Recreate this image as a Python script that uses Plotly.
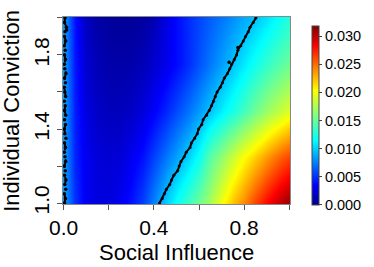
import plotly.graph_objects as go

# grid of the heatmap
x_vals = [0.00, 0.05, 0.10, 0.15, 0.20, 0.25, 0.30, 0.35, 0.40, 0.45, 0.50,
          0.55, 0.60, 0.65, 0.70, 0.75, 0.80, 0.85, 0.90, 0.95, 1.00]
y_vals = [1.00, 1.25, 1.50, 1.75, 2.00]

row_100 = [0.0085, 0.0050, 0.0030, 0.0025, 0.0025, 0.0030, 0.0040, 0.0055, 0.0076, 0.0097, 0.0118,
           0.0135, 0.0152, 0.0172, 0.0200, 0.0222, 0.0240, 0.0262, 0.0282, 0.0298, 0.0312]
row_125 = [0.0085, 0.0046, 0.0030, 0.0023, 0.0021, 0.0023, 0.0030, 0.0040, 0.0055, 0.0070, 0.0086,
           0.0100, 0.0118, 0.0145, 0.0165, 0.0185, 0.0203, 0.0218, 0.0235, 0.0250, 0.0262]
row_150 = [0.0085, 0.0044, 0.0025, 0.0017, 0.0014, 0.0014, 0.0017, 0.0024, 0.0034, 0.0045, 0.0058,
           0.0070, 0.0083, 0.0096, 0.0110, 0.0123, 0.0137, 0.0153, 0.0168, 0.0180, 0.0192]
row_175 = [0.0085, 0.0042, 0.0020, 0.0012, 0.0009, 0.0008, 0.0009, 0.0013, 0.0020, 0.0028, 0.0038,
           0.0048, 0.0060, 0.0072, 0.0085, 0.0096, 0.0108, 0.0120, 0.0132, 0.0142, 0.0152]
row_200 = [0.0085, 0.0040, 0.0015, 0.0007, 0.0004, 0.0003, 0.0003, 0.0005, 0.0012, 0.0025, 0.0038,
           0.0048, 0.0056, 0.0064, 0.0072, 0.0080, 0.0088, 0.0096, 0.0106, 0.0116, 0.0126]

# black threshold lines
diag_y = [1.000, 1.025, 1.050, 1.075, 1.100, 1.125, 1.150, 1.175, 1.200, 1.225, 1.250,
          1.275, 1.300, 1.325, 1.350, 1.375, 1.400, 1.425, 1.450, 1.475, 1.500,
          1.525, 1.550, 1.575, 1.600, 1.625, 1.650, 1.675, 1.700, 1.725, 1.750,
          1.775, 1.800, 1.825, 1.850, 1.875, 1.900, 1.925, 1.950, 1.975, 2.000]
diag_x = [0.425, 0.437, 0.446, 0.455, 0.470, 0.478, 0.488, 0.505, 0.512, 0.520, 0.534,
          0.543, 0.560, 0.566, 0.580, 0.592, 0.598, 0.612, 0.618, 0.633, 0.645,
          0.655, 0.664, 0.672, 0.680, 0.694, 0.704, 0.712, 0.726, 0.736, 0.744,
          0.756, 0.766, 0.772, 0.785, 0.796, 0.806, 0.818, 0.826, 0.840, 0.852]

left_y = [1.000, 1.025, 1.050, 1.075, 1.100, 1.125, 1.150, 1.175, 1.200, 1.225, 1.250,
          1.275, 1.300, 1.325, 1.350, 1.375, 1.400, 1.425, 1.450, 1.475, 1.500,
          1.525, 1.550, 1.575, 1.600, 1.625, 1.650, 1.675, 1.700, 1.725, 1.750,
          1.775, 1.800, 1.825, 1.850, 1.875, 1.900, 1.925, 1.950, 1.975, 2.000]
left_x = [0.004, 0.008, 0.003, 0.009, 0.005, 0.010, 0.004, 0.007, 0.003, 0.009, 0.006,
          0.003, 0.008, 0.004, 0.010, 0.005, 0.003, 0.008, 0.004, 0.009, 0.004,
          0.007, 0.003, 0.009, 0.005, 0.003, 0.008, 0.004, 0.010, 0.005, 0.003,
          0.008, 0.004, 0.007, 0.003, 0.009, 0.004, 0.006, 0.012, 0.004, 0.006]

stray_x = [0.733, 0.772, 0.013]
stray_y = [1.760, 1.840, 1.935]

x_tickvals = [0.0, 0.2, 0.4, 0.6, 0.8, 1.0]
x_ticktext = ["0.0", "", "0.4", "", "0.8", ""]
y_tickvals = [1.0, 1.2, 1.4, 1.6, 1.8, 2.0]
y_ticktext = ["1.0", "", "1.4", "", "1.8", ""]
cb_tickvals = [0.000, 0.005, 0.010, 0.015, 0.020, 0.025, 0.030]
cb_ticktext = ["0.000", "0.005", "0.010", "0.015", "0.020", "0.025", "0.030"]

x_title = "Social Influence"
y_title = "Individual Conviction"

jet = [[0.0, "rgb(0,0,143)"], [0.11, "rgb(0,0,255)"], [0.36, "rgb(0,255,255)"],
       [0.5, "rgb(128,255,128)"], [0.64, "rgb(255,255,0)"], [0.89, "rgb(255,0,0)"],
       [1.0, "rgb(128,0,0)"]]

font = "Liberation Sans, Arial, sans-serif"

fig = go.Figure()
fig.add_trace(go.Heatmap(
    x=x_vals, y=y_vals, z=[row_100, row_125, row_150, row_175, row_200],
    zmin=0, zmax=0.0318, colorscale=jet, zsmooth="best",
    colorbar=dict(
        x=1.098, xanchor="left", xref="paper", y=-0.005, yanchor="bottom",
        len=0.955, lenmode="fraction", thickness=7, thicknessmode="pixels",
        outlinewidth=1, outlinecolor="#444", xpad=0, ypad=0,
        tickvals=cb_tickvals, ticktext=cb_ticktext, ticks="outside", ticklen=3,
        tickcolor="#444", tickfont=dict(family=font, size=14.5, color="black"),
    ),
    showscale=True, hoverinfo="skip",
))
fig.add_trace(go.Scatter(x=diag_x, y=diag_y, mode="lines+markers",
                         line=dict(color="black", width=2), marker=dict(color="black", size=3),
                         showlegend=False, hoverinfo="skip"))
fig.add_trace(go.Scatter(x=left_x, y=left_y, mode="lines+markers",
                         line=dict(color="black", width=2, dash="dash"),
                         marker=dict(color="black", size=3.5),
                         showlegend=False, hoverinfo="skip"))
fig.add_trace(go.Scatter(x=stray_x, y=stray_y, mode="markers",
                         marker=dict(color="black", size=3.5), showlegend=False, hoverinfo="skip"))

fig.update_layout(
    width=374, height=267,
    margin=dict(l=63, r=77, t=17, b=63),
    paper_bgcolor="white", plot_bgcolor="white",
    font=dict(family=font, color="black"),
    xaxis=dict(range=[-0.003, 1.003], tickvals=x_tickvals, ticktext=x_ticktext,
               ticks="outside", ticklen=5, tickcolor="#555", showgrid=False, zeroline=False,
               showline=True, linecolor="#888", linewidth=1, mirror=True,
               tickfont=dict(size=21), automargin=False),
    yaxis=dict(range=[0.995, 2.005], tickvals=y_tickvals, ticktext=y_ticktext,
               ticks="outside", ticklen=5, tickcolor="#555", showgrid=False, zeroline=False,
               showline=True, linecolor="#888", linewidth=1, mirror=True,
               tickangle=-90, tickfont=dict(size=21), automargin=False),
    annotations=[
        dict(text=x_title, xref="paper", yref="paper", x=0.5, y=-0.26,
             xanchor="center", yanchor="middle", showarrow=False, font=dict(size=22)),
        dict(text=y_title, xref="paper", yref="paper", x=-0.228, y=0.5, textangle=-90,
             xanchor="center", yanchor="middle", showarrow=False, font=dict(size=22)),
    ],
)

fig.write_html("out.html", config={"displayModeBar": False},
               post_script="document.body.style.margin='0';document.body.style.overflow='hidden';")
